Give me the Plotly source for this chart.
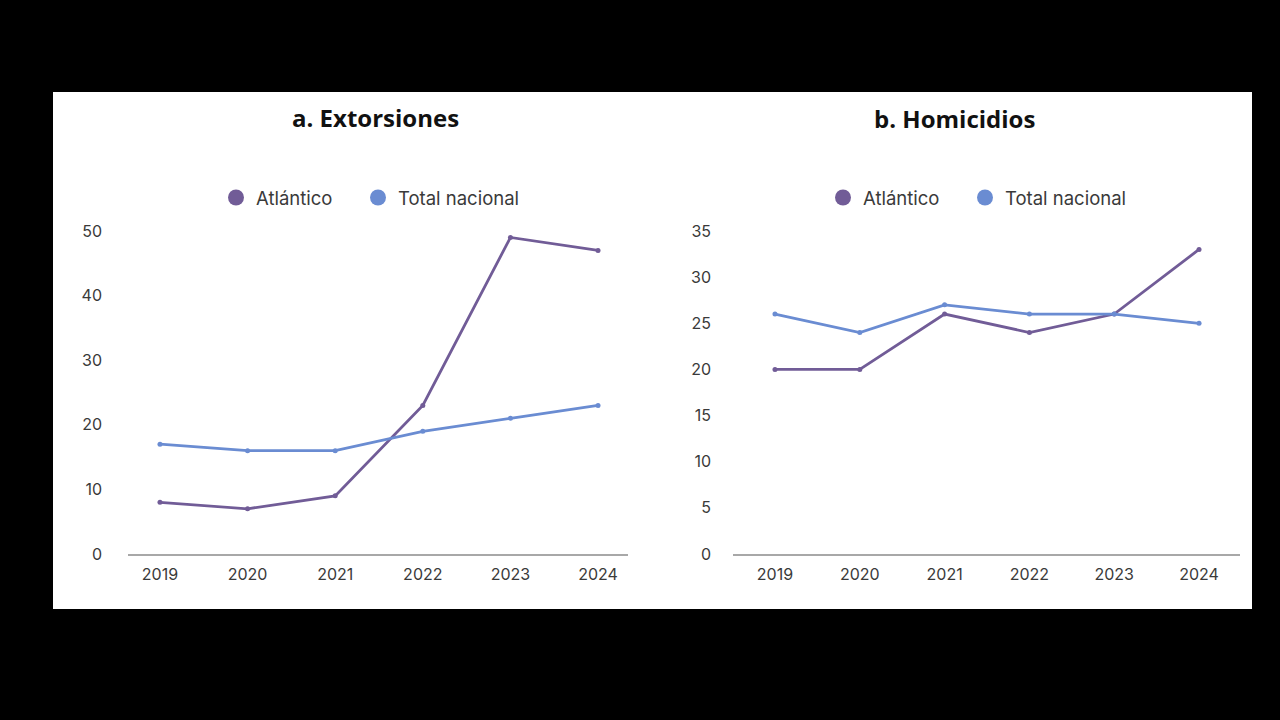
import plotly.graph_objects as go

years = [2019, 2020, 2021, 2022, 2023, 2024]
ext_atlantico = [8, 7, 9, 23, 49, 47]
ext_nacional = [17, 16, 16, 19, 21, 23]
hom_atlantico = [20, 20, 26, 24, 26, 33]
hom_nacional = [26, 24, 27, 26, 26, 25]
series_names = ["Atlántico", "Total nacional"]
titles = ["a. Extorsiones", "b. Homicidios"]
ext_ticks = [0, 10, 20, 30, 40, 50]
hom_ticks = [0, 5, 10, 15, 20, 25, 30, 35]

PURPLE = "#715c97"
BLUE = "#6a8cd2"
W, H = 1280, 720
FONT = "Inter, Lato, sans-serif"

def px(x):
    return x / W

def py(y):
    return 1 - y / H

fig = go.Figure()

# data traces
for xa, ya, atl, nac in [("x", "y", ext_atlantico, ext_nacional),
                         ("x2", "y2", hom_atlantico, hom_nacional)]:
    for vals, col in [(atl, PURPLE), (nac, BLUE)]:
        fig.add_trace(go.Scatter(x=years, y=vals, mode="lines+markers",
                                 line=dict(color=col, width=2.8),
                                 marker=dict(color=col, size=5),
                                 xaxis=xa, yaxis=ya, showlegend=False,
                                 cliponaxis=False))

# legend-only traces, one legend per entry so each can be placed
legend_specs = [("legend", "x", "y", 0, 238), ("legend2", "x", "y", 1, 380),
                ("legend3", "x2", "y2", 0, 845), ("legend4", "x2", "y2", 1, 987)]
legend_layout = {}
for leg, xa, ya, idx, mx in legend_specs:
    col = [PURPLE, BLUE][idx]
    fig.add_trace(go.Scatter(x=[None], y=[None], mode="markers", name=series_names[idx],
                             marker=dict(color=col, size=17),
                             xaxis=xa, yaxis=ya, legend=leg))
    legend_layout[leg] = dict(x=px(mx - 22), y=py(198), xanchor="left", yanchor="middle",
                              font=dict(family=FONT, size=18.5, color="#3a3a3a"),
                              itemwidth=30, bgcolor="rgba(0,0,0,0)", borderwidth=0)

tickfont = dict(family=FONT, size=16, color="#3a3a3a")
xcommon = dict(tickvals=years, showgrid=False, zeroline=False, showline=True,
               linecolor="#a8a8a8", linewidth=1.5, ticks="", tickfont=tickfont,
               ticklabelstandoff=5, fixedrange=True)
ycommon = dict(showgrid=False, zeroline=False, showline=False, ticks="",
               tickfont=tickfont, fixedrange=True)

ydom = [py(554), py(231)]
fig.update_layout(
    width=W, height=H,
    margin=dict(l=0, r=0, t=0, b=0, pad=0, autoexpand=False),
    paper_bgcolor="black",
    plot_bgcolor="rgba(0,0,0,0)",
    xaxis=dict(domain=[px(128), px(628)], range=[2018.635, 2024.342], anchor="y", **xcommon),
    yaxis=dict(domain=ydom, range=[0, 50], tickvals=ext_ticks, anchor="x",
               ticklabelstandoff=25, **ycommon),
    xaxis2=dict(domain=[px(733), px(1240)], range=[2018.505, 2024.483], anchor="y2", **xcommon),
    yaxis2=dict(domain=ydom, range=[0, 35], tickvals=hom_ticks, anchor="x2",
                ticklabelstandoff=21, **ycommon),
    shapes=[dict(type="rect", xref="paper", yref="paper", x0=px(53), x1=px(1252),
                 y0=py(609), y1=py(92), fillcolor="white", line=dict(width=0), layer="below")],
    annotations=[
        dict(text="<b>" + titles[0] + "</b>", x=px(375), y=py(118), xref="paper", yref="paper",
             showarrow=False, xanchor="center", yanchor="middle",
             font=dict(family="Open Sans, sans-serif", size=24, color="#111111")),
        dict(text="<b>" + titles[1] + "</b>", x=px(954), y=py(119), xref="paper", yref="paper",
             showarrow=False, xanchor="center", yanchor="middle",
             font=dict(family="Open Sans, sans-serif", size=24, color="#111111")),
    ],
    **legend_layout,
)

fig.write_html("out.html", config={"displayModeBar": False},
               post_script="document.body.style.margin='0';document.body.style.background='black';")
